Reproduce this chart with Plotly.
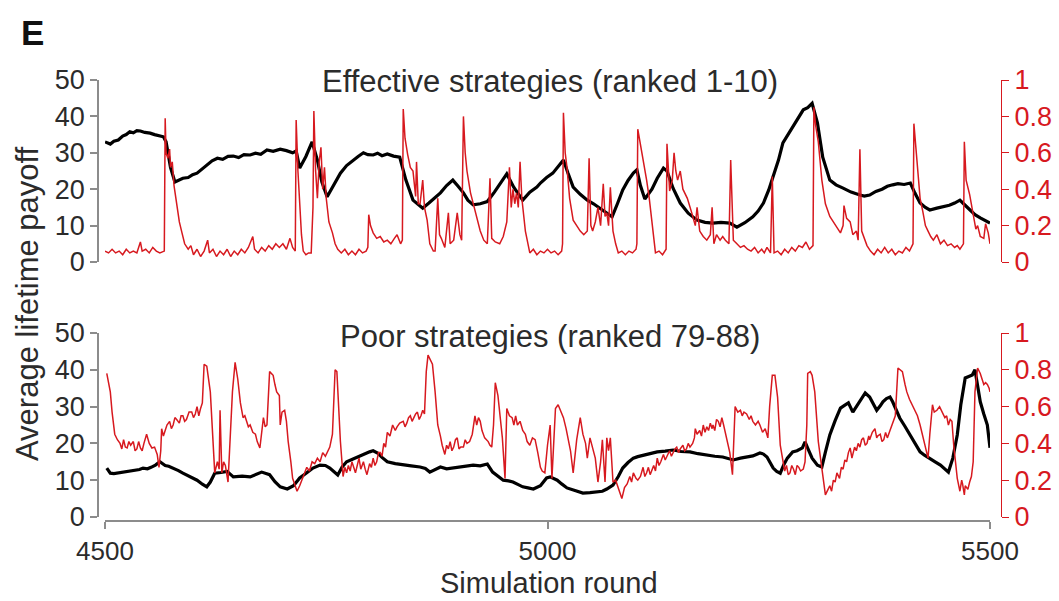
import plotly.graph_objects as go

# ---------------- data ----------------
# Effective strategies (ranked 1-10): average lifetime payoff (left axis)
top_payoff = [
    (4500, 33), (4503, 32.6), (4506, 32.4), (4510, 33.2), (4515, 33.5), (4520, 34.6), (4524, 35.0),
    (4528, 35.8), (4532, 35.5), (4536, 36.1), (4540, 36), (4545, 35.6), (4551, 35.4), (4556, 35.0),
    (4561, 34.8), (4566, 34.4), (4569, 33), (4574, 26), (4579, 22), (4584, 22.6), (4588, 23),
    (4594, 23.2), (4599, 24.0), (4604, 24.4), (4610, 25.6), (4615, 26.5), (4621, 27.8), (4627, 28.5),
    (4633, 28.2), (4639, 29.0), (4645, 29.1), (4651, 28.7), (4657, 29.5), (4664, 29.4), (4670, 29.9),
    (4676, 29.6), (4683, 30.8), (4690, 30.4), (4698, 31), (4705, 30.6), (4712, 30), (4716, 30.5),
    (4720, 25.8), (4727, 29.0), (4734, 33), (4740, 28), (4745, 22), (4751, 17.9), (4758, 21.0),
    (4766, 24.4), (4773, 26.5), (4780, 28), (4786, 29.0), (4792, 30), (4797, 29.5), (4803, 29.4),
    (4808, 29.9), (4813, 29.2), (4819, 29.7), (4826, 29.1), (4833, 28.8), (4840, 22.5), (4848, 17),
    (4854, 15.8), (4859, 14.8), (4866, 16.2), (4872, 17.6), (4879, 19), (4886, 21.0), (4893, 22.5),
    (4899, 20.8), (4905, 19), (4910, 17.0), (4916, 15.7), (4924, 16.0), (4932, 16.6), (4940, 19.2),
    (4947, 21.8), (4954, 24.2), (4962, 20.5), (4972, 17), (4980, 19.2), (4988, 20.6), (4992, 21.7),
    (4999, 23.2), (5006, 24.4), (5012, 26.2), (5018, 28), (5023, 24.5), (5029, 20.6), (5037, 18.6),
    (5045, 17), (5052, 16.0), (5059, 14.8), (5066, 13.4), (5073, 12.4), (5079, 16.0), (5085, 19.8),
    (5091, 22.4), (5097, 24.4), (5101, 25.3), (5105, 21.0), (5110, 17.3), (5118, 20), (5124, 23.0),
    (5131, 25.8), (5135, 25), (5142, 20.2), (5150, 16.2), (5159, 13.4), (5169, 11.5), (5178, 10.9),
    (5187, 10.7), (5196, 10.9), (5206, 10.7), (5214, 9.6), (5223, 10.8), (5232, 12.4), (5238, 14.0),
    (5244, 16.2), (5250, 19.8), (5255, 23.4), (5261, 28.0), (5266, 32.7), (5272, 35.0), (5277, 37),
    (5283, 39.5), (5289, 41.8), (5294, 42.4), (5299, 43.6), (5305, 38.2), (5311, 28.8), (5319, 22.5),
    (5326, 21.2), (5334, 20.3), (5343, 19.2), (5353, 18.4), (5358, 18.1), (5364, 18.4), (5371, 19.4),
    (5378, 20.0), (5384, 20.8), (5390, 21.2), (5396, 21.5), (5403, 21.3), (5410, 21.7), (5415, 19.0),
    (5421, 16.2), (5427, 15.0), (5432, 14.3), (5440, 14.8), (5447, 15.1), (5454, 15.6), (5460, 16.2),
    (5466, 17), (5471, 15.8), (5477, 14.3), (5483, 13.0), (5489, 12.1), (5495, 11.4), (5500, 10.7),
]

# Effective strategies: red series (right axis, 0-1)
top_fraction = [
    (4500, 0.06), (4504, 0.05), (4508, 0.07), (4512, 0.05), (4516, 0.06), (4520, 0.04), (4524, 0.07),
    (4528, 0.05), (4532, 0.06), (4536, 0.05), (4540, 0.11), (4542, 0.06), (4546, 0.07), (4550, 0.05),
    (4554, 0.08), (4558, 0.06), (4562, 0.05), (4566, 0.06), (4567, 0.06), (4568, 0.79), (4569, 0.6),
    (4571, 0.57), (4573, 0.62), (4574, 0.52), (4576, 0.55), (4578, 0.42), (4581, 0.32), (4584, 0.22),
    (4587, 0.16), (4590, 0.1), (4594, 0.07), (4597, 0.09), (4600, 0.04), (4604, 0.07), (4608, 0.03),
    (4612, 0.06), (4616, 0.12), (4618, 0.05), (4622, 0.07), (4626, 0.03), (4630, 0.06), (4634, 0.04),
    (4638, 0.07), (4642, 0.03), (4646, 0.06), (4650, 0.04), (4654, 0.07), (4658, 0.05), (4662, 0.08),
    (4667, 0.14), (4669, 0.07), (4673, 0.05), (4677, 0.08), (4681, 0.06), (4685, 0.09), (4689, 0.07),
    (4693, 0.1), (4697, 0.08), (4701, 0.1), (4705, 0.07), (4709, 0.13), (4712, 0.08), (4715, 0.06),
    (4716, 0.78), (4718, 0.5), (4720, 0.32), (4722, 0.15), (4724, 0.06), (4727, 0.04), (4730, 0.05),
    (4733, 0.05), (4735, 0.3), (4736, 0.83), (4738, 0.5), (4740, 0.35), (4742, 0.55), (4744, 0.63),
    (4746, 0.4), (4748, 0.52), (4750, 0.35), (4753, 0.22), (4757, 0.16), (4760, 0.1), (4763, 0.07),
    (4767, 0.05), (4771, 0.07), (4775, 0.04), (4779, 0.06), (4783, 0.04), (4787, 0.07), (4791, 0.05),
    (4795, 0.06), (4797, 0.08), (4798, 0.26), (4800, 0.2), (4803, 0.16), (4807, 0.13), (4811, 0.14),
    (4815, 0.11), (4819, 0.12), (4823, 0.1), (4827, 0.13), (4830, 0.15), (4834, 0.1), (4836, 0.12),
    (4837, 0.84), (4839, 0.68), (4842, 0.59), (4845, 0.52), (4848, 0.5), (4851, 0.36), (4852, 0.55),
    (4854, 0.32), (4856, 0.32), (4859, 0.45), (4861, 0.3), (4864, 0.23), (4867, 0.1), (4871, 0.06),
    (4873, 0.06), (4876, 0.35), (4878, 0.15), (4880, 0.13), (4884, 0.08), (4888, 0.27), (4890, 0.1),
    (4894, 0.12), (4898, 0.27), (4901, 0.15), (4903, 0.12), (4905, 0.8), (4907, 0.6), (4909, 0.5),
    (4913, 0.38), (4916, 0.32), (4920, 0.24), (4924, 0.17), (4928, 0.12), (4932, 0.1), (4935, 0.46),
    (4937, 0.13), (4941, 0.11), (4946, 0.1), (4950, 0.14), (4954, 0.22), (4957, 0.52), (4959, 0.3),
    (4961, 0.4), (4963, 0.32), (4965, 0.38), (4967, 0.3), (4969, 0.55), (4971, 0.35), (4975, 0.17),
    (4978, 0.1), (4980, 0.05), (4984, 0.07), (4988, 0.04), (4992, 0.06), (4996, 0.05), (5000, 0.07),
    (5004, 0.05), (5008, 0.06), (5012, 0.04), (5016, 0.06), (5017, 0.1), (5018, 0.82), (5020, 0.6),
    (5022, 0.52), (5025, 0.35), (5029, 0.23), (5033, 0.2), (5037, 0.17), (5041, 0.15), (5045, 0.17),
    (5047, 0.57), (5049, 0.2), (5051, 0.17), (5054, 0.22), (5057, 0.3), (5060, 0.2), (5063, 0.43),
    (5065, 0.25), (5067, 0.27), (5069, 0.2), (5071, 0.41), (5073, 0.22), (5074, 0.17), (5077, 0.1),
    (5080, 0.05), (5084, 0.06), (5088, 0.04), (5092, 0.06), (5096, 0.05), (5100, 0.07), (5101, 0.1),
    (5102, 0.73), (5105, 0.65), (5108, 0.55), (5112, 0.45), (5115, 0.35), (5118, 0.23), (5121, 0.1),
    (5122, 0.05), (5126, 0.06), (5130, 0.04), (5134, 0.07), (5135, 0.65), (5138, 0.39), (5141, 0.45),
    (5143, 0.6), (5145, 0.5), (5147, 0.45), (5150, 0.5), (5153, 0.4), (5158, 0.35), (5163, 0.27),
    (5167, 0.2), (5169, 0.3), (5172, 0.17), (5176, 0.14), (5180, 0.12), (5184, 0.15), (5186, 0.3),
    (5188, 0.1), (5191, 0.15), (5195, 0.12), (5198, 0.14), (5201, 0.12), (5205, 0.1), (5207, 0.56),
    (5210, 0.12), (5214, 0.1), (5218, 0.08), (5222, 0.09), (5226, 0.07), (5230, 0.06), (5234, 0.08),
    (5238, 0.05), (5242, 0.07), (5245, 0.05), (5248, 0.08), (5252, 0.05), (5253, 0.3), (5254, 0.47),
    (5256, 0.05), (5260, 0.06), (5264, 0.04), (5268, 0.07), (5272, 0.05), (5276, 0.08), (5280, 0.06),
    (5284, 0.09), (5288, 0.08), (5292, 0.11), (5296, 0.07), (5300, 0.09), (5301, 0.85), (5303, 0.75),
    (5306, 0.66), (5310, 0.45), (5314, 0.32), (5319, 0.25), (5323, 0.22), (5327, 0.19), (5331, 0.16),
    (5334, 0.2), (5335, 0.31), (5338, 0.24), (5342, 0.22), (5345, 0.15), (5349, 0.17), (5351, 0.12),
    (5353, 0.62), (5355, 0.17), (5359, 0.11), (5361, 0.09), (5365, 0.06), (5369, 0.04), (5373, 0.07),
    (5377, 0.05), (5381, 0.08), (5385, 0.05), (5389, 0.07), (5393, 0.04), (5397, 0.06), (5401, 0.05),
    (5405, 0.08), (5409, 0.06), (5412, 0.09), (5413, 0.1), (5414, 0.76), (5417, 0.59), (5419, 0.45),
    (5421, 0.35), (5424, 0.28), (5427, 0.2), (5430, 0.17), (5433, 0.14), (5436, 0.12), (5440, 0.15),
    (5444, 0.1), (5448, 0.12), (5452, 0.09), (5456, 0.1), (5460, 0.08), (5463, 0.09), (5466, 0.07),
    (5470, 0.1), (5471, 0.66), (5473, 0.45), (5477, 0.37), (5481, 0.25), (5484, 0.18), (5486, 0.2),
    (5489, 0.14), (5493, 0.13), (5495, 0.21), (5498, 0.16), (5500, 0.1),
]

# Poor strategies (ranked 79-88): average lifetime payoff (left axis)
bottom_payoff = [
    (4502, 13.3), (4506, 11.9), (4510, 11.8), (4515, 12), (4520, 12.2), (4525, 12.4), (4530, 12.6),
    (4535, 12.8), (4539, 12.9), (4543, 13.3), (4548, 13.1), (4552, 13.5), (4557, 14.1), (4562, 15),
    (4568, 14), (4572, 13.8), (4577, 13.3), (4583, 12.6), (4588, 11.9), (4596, 11), (4604, 10),
    (4610, 8.9), (4615, 8.2), (4619, 9.5), (4624, 11.9), (4631, 12.1), (4638, 12.4), (4645, 10.9),
    (4655, 11.1), (4664, 10.9), (4671, 11.6), (4677, 12.2), (4686, 11.5), (4692, 9.6), (4698, 8.2),
    (4706, 7.6), (4713, 8.5), (4720, 10.6), (4728, 12.0), (4735, 13.3), (4743, 14.1), (4749, 14.0),
    (4754, 13.3), (4763, 11.4), (4768, 13.6), (4773, 15), (4779, 15.6), (4785, 16.3), (4792, 16.9),
    (4799, 17.7), (4803, 18.0), (4808, 17.4), (4813, 16.2), (4819, 15), (4828, 14.5), (4837, 14.1),
    (4846, 13.9), (4856, 13.6), (4862, 13.2), (4867, 12.2), (4873, 13.0), (4879, 13.6), (4886, 13.1),
    (4893, 13.3), (4903, 13.8), (4916, 14.1), (4924, 13.9), (4932, 14.4), (4938, 12.2), (4944, 11.0),
    (4950, 10), (4956, 9.8), (4961, 9.5), (4967, 8.8), (4972, 8.2), (4978, 7.9), (4984, 7.6),
    (4992, 8.5), (4999, 10.6), (5003, 10.9), (5011, 10), (5016, 9.0), (5022, 7.9), (5031, 7.2),
    (5040, 6.5), (5048, 6.6), (5056, 6.8), (5062, 7.0), (5067, 7.6), (5074, 8.7), (5080, 11.0),
    (5085, 13.3), (5091, 14.8), (5097, 16), (5102, 16.4), (5108, 16.8), (5116, 17.3), (5124, 17.7),
    (5133, 17.9), (5142, 18.2), (5151, 17.8), (5161, 17.7), (5170, 17.2), (5180, 16.8), (5189, 16.5),
    (5198, 16.3), (5204, 15.9), (5210, 15.5), (5218, 16.0), (5225, 16.3), (5232, 16.6), (5240, 17.4),
    (5244, 17.1), (5248, 16.3), (5252, 14.6), (5255, 13.3), (5259, 12.4), (5263, 11.9), (5267, 14.2),
    (5271, 16), (5277, 17.7), (5282, 18.0), (5288, 18.8), (5291, 20.4), (5295, 18.2), (5299, 16),
    (5305, 14.1), (5310, 13.6), (5314, 17.6), (5319, 22.3), (5325, 26.2), (5331, 29.6), (5336, 30.4),
    (5340, 31), (5345, 28.5), (5349, 30.0), (5353, 31.8), (5359, 33.7), (5364, 32.6), (5368, 30.8),
    (5372, 29), (5376, 30.2), (5379, 31.3), (5383, 32.2), (5387, 32.6), (5390, 31.3), (5394, 29.0),
    (5398, 26.9), (5404, 24.6), (5410, 22.3), (5416, 20.0), (5421, 17.7), (5426, 16.8), (5432, 16),
    (5438, 15.0), (5444, 14.1), (5448, 13.2), (5453, 12.2), (5458, 16.0), (5463, 22.3), (5467, 30.5),
    (5472, 37.8), (5476, 38.2), (5480, 38.6), (5483, 40), (5486, 36.0), (5489, 31.3), (5493, 28.0),
    (5497, 25), (5500, 18.8),
]

# Poor strategies: red series (right axis, 0-1)
bottom_fraction = [
    (4502, 0.78), (4504, 0.72), (4506, 0.68), (4508, 0.57), (4511, 0.45), (4514, 0.42), (4517, 0.4),
    (4519, 0.37), (4521, 0.42), (4523, 0.38), (4525, 0.375), (4527, 0.41), (4529, 0.39), (4532, 0.41),
    (4534, 0.36), (4536, 0.37), (4538, 0.41), (4540, 0.375), (4542, 0.36), (4544, 0.4), (4547, 0.45),
    (4550, 0.4), (4553, 0.375), (4556, 0.38), (4559, 0.34), (4561, 0.27), (4563, 0.36), (4564, 0.48),
    (4566, 0.44), (4568, 0.47), (4570, 0.5), (4573, 0.52), (4575, 0.48), (4577, 0.5), (4579, 0.54),
    (4581, 0.53), (4584, 0.51), (4586, 0.55), (4588, 0.55), (4590, 0.52), (4592, 0.53), (4595, 0.57),
    (4598, 0.57), (4600, 0.54), (4602, 0.56), (4604, 0.6), (4606, 0.55), (4608, 0.59), (4610, 0.62),
    (4612, 0.83), (4615, 0.82), (4619, 0.68), (4622, 0.41), (4624, 0.24), (4627, 0.3), (4629, 0.26),
    (4630, 0.58), (4632, 0.24), (4634, 0.3), (4636, 0.28), (4639, 0.19), (4641, 0.4), (4644, 0.68),
    (4647, 0.84), (4650, 0.75), (4653, 0.62), (4656, 0.54), (4658, 0.55), (4660, 0.52), (4662, 0.49),
    (4664, 0.5), (4667, 0.46), (4670, 0.45), (4672, 0.41), (4675, 0.375), (4677, 0.45), (4679, 0.54),
    (4681, 0.49), (4683, 0.5), (4686, 0.79), (4690, 0.77), (4692, 0.72), (4694, 0.68), (4697, 0.66),
    (4698, 0.5), (4700, 0.57), (4703, 0.58), (4705, 0.52), (4707, 0.41), (4710, 0.3), (4712, 0.21),
    (4717, 0.14), (4720, 0.17), (4724, 0.22), (4728, 0.27), (4731, 0.25), (4734, 0.3), (4737, 0.29),
    (4740, 0.32), (4743, 0.3), (4746, 0.35), (4749, 0.33), (4751, 0.35), (4754, 0.38), (4757, 0.45),
    (4760, 0.8), (4762, 0.79), (4764, 0.6), (4766, 0.41), (4769, 0.22), (4771, 0.27), (4773, 0.24),
    (4775, 0.28), (4777, 0.25), (4779, 0.3), (4781, 0.27), (4783, 0.24), (4785, 0.28), (4787, 0.32),
    (4789, 0.26), (4792, 0.3), (4794, 0.26), (4796, 0.23), (4799, 0.29), (4801, 0.27), (4803, 0.32),
    (4805, 0.28), (4807, 0.3), (4809, 0.35), (4811, 0.35), (4813, 0.33), (4815, 0.4), (4817, 0.38),
    (4819, 0.46), (4822, 0.44), (4825, 0.5), (4828, 0.47), (4830, 0.49), (4833, 0.51), (4837, 0.52),
    (4839, 0.49), (4841, 0.51), (4843, 0.54), (4845, 0.55), (4847, 0.52), (4849, 0.54), (4851, 0.56),
    (4853, 0.57), (4855, 0.53), (4857, 0.55), (4859, 0.58), (4861, 0.56), (4863, 0.79), (4865, 0.88),
    (4868, 0.85), (4870, 0.83), (4873, 0.68), (4876, 0.5), (4879, 0.44), (4881, 0.39), (4884, 0.34),
    (4886, 0.39), (4888, 0.37), (4890, 0.41), (4892, 0.36), (4894, 0.38), (4896, 0.42), (4898, 0.43),
    (4900, 0.37), (4902, 0.38), (4905, 0.38), (4907, 0.42), (4909, 0.4), (4912, 0.41), (4915, 0.45),
    (4918, 0.55), (4920, 0.5), (4922, 0.54), (4924, 0.52), (4926, 0.47), (4929, 0.43), (4933, 0.41),
    (4935, 0.39), (4937, 0.38), (4939, 0.5), (4941, 0.73), (4944, 0.66), (4947, 0.52), (4949, 0.43),
    (4952, 0.21), (4954, 0.59), (4957, 0.55), (4960, 0.54), (4962, 0.5), (4964, 0.55), (4966, 0.5),
    (4969, 0.52), (4972, 0.47), (4975, 0.45), (4977, 0.41), (4980, 0.39), (4983, 0.43), (4986, 0.42),
    (4989, 0.35), (4992, 0.27), (4994, 0.25), (4997, 0.24), (5000, 0.39), (5003, 0.5), (5005, 0.21),
    (5009, 0.59), (5012, 0.61), (5015, 0.57), (5018, 0.54), (5021, 0.48), (5023, 0.43), (5026, 0.36),
    (5029, 0.24), (5033, 0.42), (5037, 0.54), (5040, 0.45), (5043, 0.4), (5045, 0.32), (5048, 0.43),
    (5051, 0.37), (5054, 0.32), (5057, 0.19), (5060, 0.3), (5062, 0.42), (5065, 0.19), (5067, 0.43),
    (5069, 0.36), (5071, 0.43), (5074, 0.19), (5077, 0.2), (5080, 0.16), (5084, 0.1), (5087, 0.16),
    (5090, 0.18), (5093, 0.22), (5095, 0.19), (5097, 0.24), (5100, 0.21), (5102, 0.2), (5105, 0.22),
    (5108, 0.27), (5110, 0.22), (5112, 0.24), (5114, 0.27), (5116, 0.23), (5118, 0.26), (5120, 0.28),
    (5122, 0.25), (5124, 0.32), (5126, 0.28), (5128, 0.3), (5131, 0.34), (5133, 0.31), (5135, 0.33),
    (5138, 0.36), (5140, 0.33), (5142, 0.35), (5144, 0.37), (5146, 0.38), (5148, 0.35), (5150, 0.37),
    (5153, 0.39), (5155, 0.36), (5157, 0.37), (5159, 0.4), (5161, 0.38), (5164, 0.4), (5166, 0.43),
    (5167, 0.48), (5169, 0.45), (5172, 0.47), (5174, 0.44), (5176, 0.5), (5178, 0.46), (5180, 0.49),
    (5182, 0.47), (5184, 0.51), (5186, 0.48), (5187, 0.5), (5189, 0.47), (5191, 0.53), (5193, 0.52),
    (5195, 0.49), (5197, 0.54), (5199, 0.5), (5201, 0.46), (5204, 0.4), (5206, 0.35), (5209, 0.23),
    (5212, 0.6), (5215, 0.57), (5218, 0.58), (5220, 0.55), (5222, 0.57), (5225, 0.56), (5228, 0.53),
    (5230, 0.55), (5232, 0.52), (5235, 0.5), (5238, 0.52), (5240, 0.5), (5243, 0.46), (5246, 0.48),
    (5249, 0.43), (5251, 0.6), (5254, 0.77), (5257, 0.77), (5260, 0.65), (5263, 0.39), (5266, 0.3),
    (5268, 0.25), (5270, 0.28), (5272, 0.23), (5274, 0.24), (5276, 0.28), (5278, 0.26), (5280, 0.23),
    (5282, 0.28), (5284, 0.27), (5286, 0.25), (5289, 0.26), (5291, 0.3), (5293, 0.5), (5294, 0.78),
    (5297, 0.79), (5299, 0.77), (5302, 0.68), (5306, 0.41), (5310, 0.27), (5312, 0.18), (5314, 0.12),
    (5317, 0.15), (5319, 0.17), (5321, 0.14), (5323, 0.2), (5325, 0.19), (5327, 0.24), (5330, 0.21),
    (5332, 0.27), (5334, 0.26), (5336, 0.31), (5338, 0.3), (5340, 0.35), (5342, 0.375), (5344, 0.32),
    (5345, 0.34), (5347, 0.38), (5349, 0.36), (5351, 0.4), (5353, 0.38), (5355, 0.42), (5357, 0.43),
    (5359, 0.39), (5361, 0.4), (5363, 0.44), (5364, 0.42), (5367, 0.46), (5370, 0.48), (5372, 0.43),
    (5373, 0.44), (5376, 0.45), (5378, 0.41), (5380, 0.42), (5382, 0.46), (5384, 0.43), (5387, 0.47),
    (5389, 0.5), (5393, 0.55), (5396, 0.81), (5399, 0.8), (5401, 0.79), (5404, 0.72), (5406, 0.68),
    (5409, 0.64), (5412, 0.61), (5415, 0.58), (5418, 0.55), (5421, 0.5), (5424, 0.44), (5427, 0.39),
    (5430, 0.32), (5432, 0.45), (5435, 0.61), (5437, 0.57), (5440, 0.58), (5443, 0.6), (5446, 0.57),
    (5449, 0.54), (5451, 0.55), (5453, 0.5), (5455, 0.53), (5457, 0.52), (5459, 0.39), (5461, 0.3),
    (5463, 0.21), (5466, 0.14), (5468, 0.2), (5469, 0.18), (5471, 0.12), (5472, 0.17), (5475, 0.15),
    (5477, 0.19), (5479, 0.22), (5481, 0.3), (5483, 0.68), (5486, 0.81), (5489, 0.78), (5491, 0.75),
    (5493, 0.72), (5495, 0.73), (5497, 0.72), (5499, 0.7), (5500, 0.68),
]

x_ticks = [4500, 5000, 5500]
left_ticks = [0, 10, 20, 30, 40, 50]
right_ticks = [0, 0.2, 0.4, 0.6, 0.8, 1]
panel_titles = ["Effective strategies (ranked 1-10)", "Poor strategies (ranked 79-88)"]
y_title = "Average lifetime payoff"
x_title = "Simulation round"
panel_label = "E"

# ---------------- styling ----------------
W, H = 1059, 601
RED = "#d7191f"
AXIS_GREY = "#8c8c8c"
TEXT = "#2b2b2b"
FONT = "Liberation Sans, Arial, sans-serif"


def unzip(pairs):
    return [p[0] for p in pairs], [p[1] for p in pairs]


def px(xp):
    return xp / W


def py(yp):
    return 1 - yp / H


x_dom = [px(105), px(990)]
top_dom = [py(262), py(80)]
bot_dom = [py(517), py(333)]
left_pos = px(98)
right_pos = px(1001)

fig = go.Figure()

tx, ty = unzip(top_payoff)
fig.add_trace(go.Scatter(x=tx, y=ty, mode="lines", xaxis="x", yaxis="y",
                         line=dict(color="black", width=3.2), showlegend=False))
rx, ry = unzip(top_fraction)
fig.add_trace(go.Scatter(x=rx, y=ry, mode="lines", xaxis="x", yaxis="y2",
                         line=dict(color=RED, width=1.5), showlegend=False))
bx, by = unzip(bottom_payoff)
fig.add_trace(go.Scatter(x=bx, y=by, mode="lines", xaxis="x2", yaxis="y3",
                         line=dict(color="black", width=3.2), showlegend=False))
brx, bry = unzip(bottom_fraction)
fig.add_trace(go.Scatter(x=brx, y=bry, mode="lines", xaxis="x2", yaxis="y4",
                         line=dict(color=RED, width=1.5), showlegend=False))

TICK_SIZE = 27
left_axis = dict(range=[0, 50], tickvals=left_ticks, anchor="free", position=left_pos,
                 side="left", showline=True, linecolor=AXIS_GREY, linewidth=1.5,
                 ticks="outside", ticklen=7, tickcolor=AXIS_GREY, tickwidth=1.5,
                 showgrid=False, zeroline=False, automargin=False,
                 tickfont=dict(family=FONT, size=TICK_SIZE, color=TEXT))
right_axis = dict(range=[0, 1], tickvals=right_ticks, anchor="free", position=right_pos,
                  side="right", showline=True, linecolor=RED, linewidth=1.2,
                  ticks="outside", ticklen=7, tickcolor=RED, tickwidth=1.2,
                  showgrid=False, zeroline=False, automargin=False,
                  tickfont=dict(family=FONT, size=TICK_SIZE, color=RED))

fig.update_layout(
    width=W, height=H,
    margin=dict(l=0, r=0, t=0, b=0, pad=0, autoexpand=False),
    paper_bgcolor="white", plot_bgcolor="white",
    font=dict(family=FONT, color=TEXT),
    xaxis=dict(domain=x_dom, range=[4500, 5500], anchor="y", visible=False,
               showgrid=False, zeroline=False, automargin=False),
    xaxis2=dict(domain=x_dom, range=[4500, 5500], anchor="free", position=py(521),
                tickvals=x_ticks, showline=True, linecolor=AXIS_GREY, linewidth=1.5,
                ticks="outside", ticklen=7, tickcolor=AXIS_GREY, tickwidth=1.5,
                showgrid=False, zeroline=False, automargin=False,
                tickfont=dict(family=FONT, size=26, color=TEXT)),
    yaxis=dict(domain=top_dom, **left_axis),
    yaxis2=dict(overlaying="y", **right_axis),
    yaxis3=dict(domain=bot_dom, **left_axis),
    yaxis4=dict(overlaying="y3", **right_axis),
)


def label(text, x, y, size, angle=0, color=TEXT, yanchor="middle"):
    return dict(text=text, x=px(x), y=py(y), xref="paper", yref="paper",
                xanchor="center", yanchor=yanchor, textangle=angle, borderpad=0,
                showarrow=False, font=dict(family=FONT, size=size, color=color))


annotations = [
    label(panel_titles[0], 550, 81, 31),
    label(panel_titles[1], 550, 337, 31),
    label(y_title, 27, 304, 31, angle=-90),
    label(x_title, 549, 600, 29, yanchor="bottom"),
    label("<b>" + panel_label + "</b>", 32, 33, 35, color="#111"),
]
fig.update_layout(annotations=annotations)

fig.write_html("out.html")
